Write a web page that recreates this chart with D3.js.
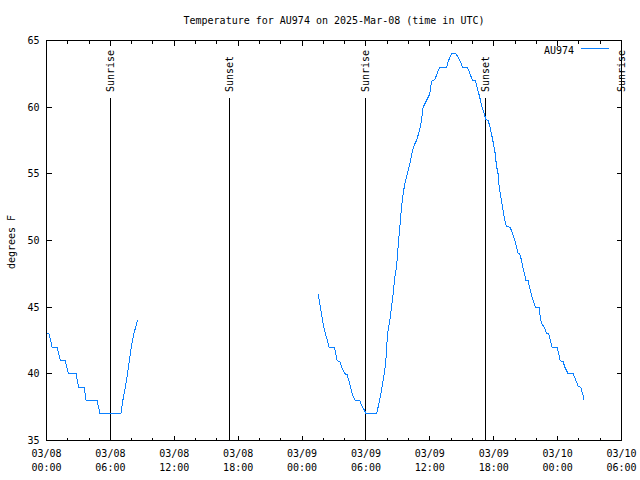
<!DOCTYPE html>
<html><head><meta charset="utf-8">
<script src="https://cdn.jsdelivr.net/npm/d3@7"></script>
<style>
body{margin:0;background:#fff}
svg text{font-family:"DejaVu Sans Mono","Liberation Mono",monospace;font-size:10px;fill:#000}
</style>
</head><body>
<svg id="chart" width="640" height="480"></svg>
<script>
// ---- data ----
const title = "Temperature for AU974 on 2025-Mar-08 (time in UTC)";
const seriesName = "AU974";
const yLabel = "degrees F";
const startTime = "2025-03-08T00:00:00Z";
const endTime = "2025-03-10T06:00:00Z";
// hours since 2025-03-08 00:00 UTC (null temperature = gap in record)
const hoursSinceStart = [
  0, 0.24, 0.53, 1.00, 1.31, 1.75, 2.07, 2.78, 3.01, 3.53, 3.72, 4.75, 5.03, 6.98,
  7.17, 7.40, 7.61, 7.78, 7.96, 8.20, 8.55,
  17.0,
  25.51, 25.67, 25.83, 25.98, 26.20, 26.39, 26.54, 27.05, 27.17, 27.29, 27.55, 27.73,
  28.02, 28.23, 28.39, 28.55, 28.74, 28.98, 29.42, 29.61, 29.83, 30.02, 30.99, 31.14,
  31.30, 31.46, 31.61, 31.77, 31.87, 31.93, 31.99, 32.08, 32.24, 32.40, 32.55, 32.71,
  32.87, 33.02, 33.18, 33.34, 33.49, 33.65, 33.81, 33.96, 34.12, 34.28, 34.43, 34.59,
  34.75, 34.90, 35.06, 35.22, 35.37, 35.53, 35.69, 35.84, 36.00, 36.06, 36.21, 36.47,
  36.63, 36.78, 36.94, 37.57, 37.72, 37.88, 38.04, 38.44, 38.66, 38.88, 39.07, 39.50,
  39.66, 39.82, 40.01, 40.29, 40.44, 40.60, 40.76, 40.91, 41.07, 41.26, 41.47, 41.63,
  41.79, 41.94, 42.10, 42.26, 42.41, 42.48, 42.57, 42.67, 42.82, 42.95, 43.04, 43.20,
  43.51, 43.67, 43.82, 43.98, 44.14, 44.29, 44.45, 44.61, 44.76, 44.92, 45.01, 45.23,
  45.39, 45.55, 45.70, 45.86, 45.95, 46.26, 46.39, 46.54, 46.80, 46.96, 47.17, 47.33,
  47.48, 47.95, 48.11, 48.23, 48.52, 48.68, 48.99, 49.46, 49.61, 49.77, 49.92, 50.18,
  50.30, 50.39, 50.49
];
const tempF = [
  43, 43, 42, 42, 41, 41, 40, 40, 39, 39, 38, 38, 37, 37,
  38, 39, 40, 41, 42, 43, 44,
  null,
  46, 45.25, 44.5, 43.75, 43, 42.5, 42, 42, 41.5, 41, 40.9, 40.5,
  40, 39.95, 39.5, 39, 38.4, 38, 38, 37.6, 37.3, 37, 37, 37.5,
  38.1, 38.75, 39.5, 40.25, 41, 41.75, 42.5, 43.25, 44, 45, 46, 47.25,
  48, 49.5, 51, 52.5, 53.5, 54.25, 54.75, 55.25, 55.75, 56.4, 56.9, 57.25,
  57.5, 57.9, 58.4, 59, 60, 60.25, 60.5, 60.75, 61, 61.5, 62, 62.05,
  62.4, 62.75, 63, 63, 63.4, 63.75, 64, 64, 63.75, 63.4, 63, 63,
  62.75, 62.4, 62, 62, 61.5, 61, 60.5, 60, 59.6, 59.1, 59, 58.6,
  58, 57.4, 56.75, 55.6, 55, 54.25, 53.75, 53.25, 52.5, 51.9, 51.5, 51.05,
  51, 50.75, 50.4, 50, 49.5, 49.05, 49, 48.5, 47.9, 47.4, 47, 47,
  46.4, 45.9, 45.5, 45.1, 45, 45, 44.1, 43.75, 43.4, 43, 43, 42.5,
  42, 42, 41.5, 41, 40.9, 40.5, 40, 40, 39.75, 39.4, 39.05, 39,
  38.6, 38.4, 38
];
const sunLabels = ["Sunrise", "Sunset", "Sunrise", "Sunset", "Sunrise"];
const sunTimes = ["2025-03-08T06:00:00Z", "2025-03-08T17:12:00Z", "2025-03-09T05:58:00Z", "2025-03-09T17:16:00Z", "2025-03-10T06:00:00Z"];
const yTicks = [35, 40, 45, 50, 55, 60, 65];

// ---- chart ----
const svg = d3.select("#chart");
const t0 = new Date(startTime), t1 = new Date(endTime);
const x = d3.scaleUtc().domain([t0, t1]).range([46.5, 621.5]);
const y = d3.scaleLinear().domain([35, 65]).range([440.5, 40.5]);
const data = hoursSinceStart.map((h, i) => ({ t: new Date(t0.getTime() + h * 3600000), v: tempF[i] }));

const majorTicks = d3.utcHour.every(6).range(t0, new Date(t1.getTime() + 1));
const minorTicks = d3.utcHour.every(2).range(t0, new Date(t1.getTime() + 1))
  .filter(d => d.getUTCHours() % 6 !== 0);

const g = svg.append("g").attr("shape-rendering", "crispEdges");

function styleAxis(sel) {
  sel.select(".domain").remove();
  sel.selectAll("line").attr("stroke", "#000");
}
// bottom major
g.append("g").attr("transform", "translate(0,440.5)")
  .call(d3.axisBottom(x).tickValues(majorTicks).tickSizeInner(-5).tickSizeOuter(0).tickPadding(11).offset(0)
    .tickFormat(d3.utcFormat("%m/%d")))
  .call(styleAxis)
  .call(a => a.selectAll(".tick text").each(function (d) {
    const tx = d3.select(this).attr("dy", null).text(null).attr("y", 0);
    tx.append("tspan").attr("x", 0).attr("y", 16.5).text(d3.utcFormat("%m/%d")(d));
    tx.append("tspan").attr("x", 0).attr("y", 30.5).text(d3.utcFormat("%H:%M")(d));
  }));
// bottom minor
g.append("g").attr("transform", "translate(0,440.5)")
  .call(d3.axisBottom(x).tickValues(minorTicks).tickSizeInner(-3).tickSizeOuter(0).tickFormat("").offset(0))
  .call(styleAxis);
// top mirror
g.append("g").attr("transform", "translate(0,40.5)")
  .call(d3.axisTop(x).tickValues(majorTicks).tickSizeInner(-5).tickSizeOuter(0).tickFormat("").offset(0))
  .call(styleAxis);
g.append("g").attr("transform", "translate(0,40.5)")
  .call(d3.axisTop(x).tickValues(minorTicks).tickSizeInner(-3).tickSizeOuter(0).tickFormat("").offset(0))
  .call(styleAxis);
// left
g.append("g").attr("transform", "translate(46.5,0)")
  .call(d3.axisLeft(y).tickValues(yTicks).tickSizeInner(-5).tickSizeOuter(0).tickPadding(7).offset(0))
  .call(styleAxis)
  .call(a => a.selectAll(".tick text").attr("dy", "0.35em"));
// right mirror
g.append("g").attr("transform", "translate(621.5,0)")
  .call(d3.axisRight(y).tickValues(yTicks).tickSizeInner(-5).tickSizeOuter(0).tickFormat("").offset(0))
  .call(styleAxis);

// border
g.append("rect").attr("x", 46.5).attr("y", 40.5).attr("width", 575).attr("height", 400)
  .attr("fill", "none").attr("stroke", "#000");

// sunrise/sunset markers
const sun = svg.append("g");
sunTimes.forEach((s, i) => {
  const xp = Math.round(x(new Date(s)) - 0.5) + 0.5;
  sun.append("line").attr("x1", xp).attr("x2", xp).attr("y1", 98).attr("y2", 440.5)
    .attr("stroke", "#000").attr("shape-rendering", "crispEdges");
  sun.append("text").attr("transform", `translate(${xp},92) rotate(-90)`)
    .attr("dy", "0.35em").attr("text-anchor", "start").text(sunLabels[i]);
});

// data line
const line = d3.line().defined(d => d.v !== null).x(d => x(d.t)).y(d => y(d.v));
svg.append("path").datum(data).attr("d", line)
  .attr("fill", "none").attr("stroke", "#0a80ff").attr("stroke-width", 1)
  .attr("shape-rendering", "crispEdges");

// title & labels
svg.append("text").attr("x", 334).attr("y", 24).attr("text-anchor", "middle").text(title);
svg.append("text").attr("transform", "translate(11,242) rotate(-90)").attr("dy", "0.35em")
  .attr("text-anchor", "middle").text(yLabel);

// legend
svg.append("text").attr("x", 574).attr("y", 50).attr("dy", "0.35em").attr("text-anchor", "end").text(seriesName);
svg.append("line").attr("x1", 581).attr("x2", 609).attr("y1", 48.5).attr("y2", 48.5)
  .attr("stroke", "#0a80ff").attr("shape-rendering", "crispEdges");
</script>
</body></html>
